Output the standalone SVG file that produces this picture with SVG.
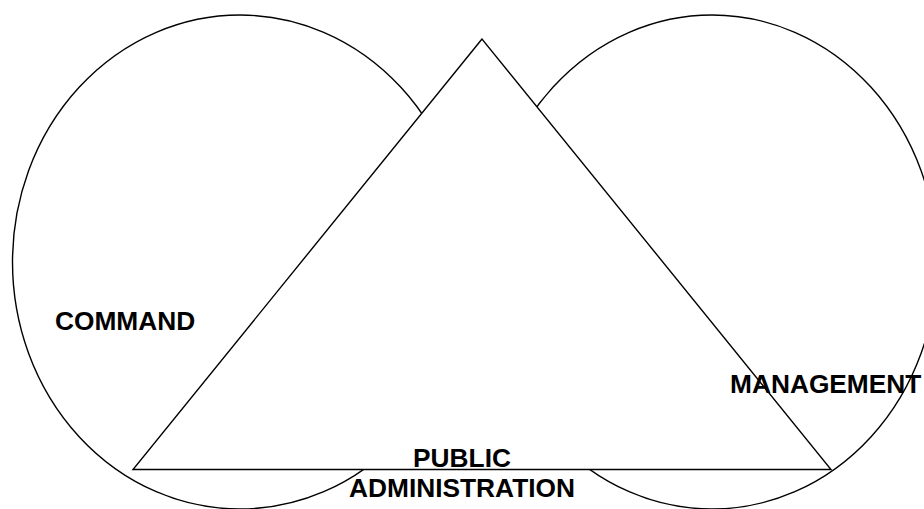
<svg xmlns="http://www.w3.org/2000/svg" width="924" height="509" viewBox="0 0 924 509">
<style>
.shape{fill:#fff;stroke:#000;stroke-width:1.4}
.lbl{font-family:"Liberation Sans",Arial,sans-serif;font-weight:bold;font-size:26.3px;fill:#000}
</style>
<rect width="924" height="509" fill="#fff"/>
<g id="command">
<ellipse class="shape" cx="240" cy="262" rx="227.5" ry="247"/>
</g>
<g id="management">
<ellipse class="shape" cx="712" cy="262" rx="225" ry="247"/>
</g>
<g id="public-administration">
<polygon class="shape" points="482,39 133,469.5 831,469.5"/>
</g>
<g id="labels">
<text class="lbl" x="55" y="330">COMMAND</text>
<text class="lbl" x="730" y="393">MANAGEMENT</text>
<text class="lbl" x="462" y="467" text-anchor="middle">PUBLIC</text>
<text class="lbl" x="462" y="497" text-anchor="middle">ADMINISTRATION</text>
</g>
<g id="connectors"></g>
</svg>
